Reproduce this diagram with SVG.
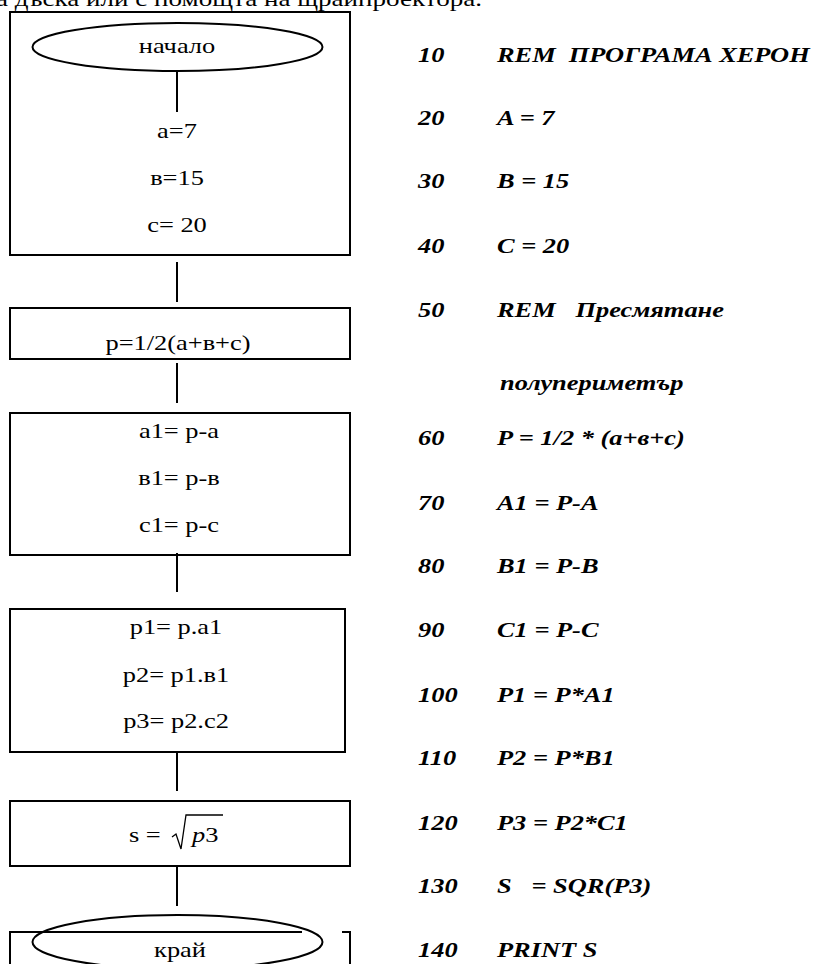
<svg xmlns="http://www.w3.org/2000/svg" width="819" height="964" viewBox="0 0 819 964">
<style>
.box{fill:none;stroke:#000;stroke-width:2}
.ell{fill:none;stroke:#000;stroke-width:2}
.con{stroke:#000;stroke-width:2;fill:none}
text{font-family:'Liberation Serif',Tinos,'Times New Roman',serif;font-size:22px;fill:#000}
.m{text-anchor:middle}
.c{font-weight:bold;font-style:italic}
</style>
<rect width="819" height="964" fill="#fff"/>
<text transform="translate(-4,6) scale(1.23,1)">а дъска или с помощта на щрайпроектора.</text>

<g id="connectors">
<line class="con" x1="177" y1="71" x2="177" y2="112"/>
<line class="con" x1="177" y1="262" x2="177" y2="302"/>
<line class="con" x1="177" y1="363" x2="177" y2="403"/>
<line class="con" x1="177" y1="553" x2="177" y2="592"/>
<line class="con" x1="177" y1="753" x2="177" y2="791"/>
<line class="con" x1="177" y1="867" x2="177" y2="906"/>
</g>

<g id="node-start">
<rect class="box" x="10" y="12" width="340" height="243"/>
<ellipse class="ell" cx="177.5" cy="47" rx="145" ry="24"/>
<text class="m" transform="translate(177,53) scale(1.2,1)">начало</text>
<text class="m" transform="translate(177,138) scale(1.2,1)">a=7</text>
<text class="m" transform="translate(177,185) scale(1.2,1)">в=15</text>
<text class="m" transform="translate(177,232) scale(1.2,1)">c= 20</text>
</g>

<g id="node-p">
<rect class="box" x="10" y="308" width="340" height="51"/>
<text class="m" transform="translate(178,350) scale(1.2,1)">p=1/2(a+в+c)</text>
</g>

<g id="node-diff">
<rect class="box" x="10" y="413" width="340" height="142"/>
<text class="m" transform="translate(179,438) scale(1.2,1)">a1= p-a</text>
<text class="m" transform="translate(179,485) scale(1.2,1)">в1= p-в</text>
<text class="m" transform="translate(179,532) scale(1.2,1)">c1= p-c</text>
</g>

<g id="node-prod">
<rect class="box" x="10" y="609" width="335" height="143"/>
<text class="m" transform="translate(176,634) scale(1.2,1)">p1= p.a1</text>
<text class="m" transform="translate(176,682) scale(1.2,1)">p2= p1.в1</text>
<text class="m" transform="translate(176,728) scale(1.2,1)">p3= p2.c2</text>
</g>

<g id="node-sqrt">
<rect class="box" x="10" y="801" width="340" height="65"/>
<text transform="translate(129,842) scale(1.2,1)">s =</text>
<path d="M172 837 L176 834 L181 849 L186 815 L223 815" fill="none" stroke="#000" stroke-width="1.3"/>
<text transform="translate(192,842) scale(1.2,1)"><tspan font-style="italic">p</tspan>3</text>
</g>

<g id="node-end">
<path class="box" d="M10 964 L10 932 L302 932"/>
<path class="box" d="M342 932 L350 932 L350 964"/>
<ellipse class="ell" cx="177.5" cy="942" rx="145" ry="27"/>
<text class="m" transform="translate(180,957) scale(1.2,1)">край</text>
</g>

<g id="code">
<text class="c" transform="translate(418,62) scale(1.2,1)">10</text>
<text class="c" transform="translate(497,62) scale(1.2,1)" xml:space="preserve">REM  ПРОГРАМА ХЕРОН</text>
<text class="c" transform="translate(418,125) scale(1.2,1)">20</text>
<text class="c" transform="translate(497,125) scale(1.2,1)">A = 7</text>
<text class="c" transform="translate(418,188) scale(1.2,1)">30</text>
<text class="c" transform="translate(497,188) scale(1.2,1)">B = 15</text>
<text class="c" transform="translate(418,253) scale(1.2,1)">40</text>
<text class="c" transform="translate(497,253) scale(1.2,1)">C = 20</text>
<text class="c" transform="translate(418,317) scale(1.2,1)">50</text>
<text class="c" transform="translate(497,317) scale(1.2,1)" xml:space="preserve">REM   Пресмятане</text>
<text class="c" transform="translate(500,390) scale(1.2,1)">полупериметър</text>
<text class="c" transform="translate(418,445) scale(1.2,1)">60</text>
<text class="c" transform="translate(497,445) scale(1.2,1)">P = 1/2 * (а+в+с)</text>
<text class="c" transform="translate(418,510) scale(1.2,1)">70</text>
<text class="c" transform="translate(497,510) scale(1.2,1)">A1 = P-A</text>
<text class="c" transform="translate(418,573) scale(1.2,1)">80</text>
<text class="c" transform="translate(497,573) scale(1.2,1)">B1 = P-B</text>
<text class="c" transform="translate(418,637) scale(1.2,1)">90</text>
<text class="c" transform="translate(497,637) scale(1.2,1)">C1 = P-C</text>
<text class="c" transform="translate(418,702) scale(1.2,1)">100</text>
<text class="c" transform="translate(497,702) scale(1.2,1)">P1 = P*A1</text>
<text class="c" transform="translate(418,765) scale(1.2,1)">110</text>
<text class="c" transform="translate(497,765) scale(1.2,1)">P2 = P*B1</text>
<text class="c" transform="translate(418,830) scale(1.2,1)">120</text>
<text class="c" transform="translate(497,830) scale(1.2,1)">P3 = P2*C1</text>
<text class="c" transform="translate(418,893) scale(1.2,1)">130</text>
<text class="c" transform="translate(497,893) scale(1.2,1)" xml:space="preserve">S   = SQR(P3)</text>
<text class="c" transform="translate(418,957) scale(1.2,1)">140</text>
<text class="c" transform="translate(497,957) scale(1.2,1)">PRINT S</text>
</g>
</svg>
